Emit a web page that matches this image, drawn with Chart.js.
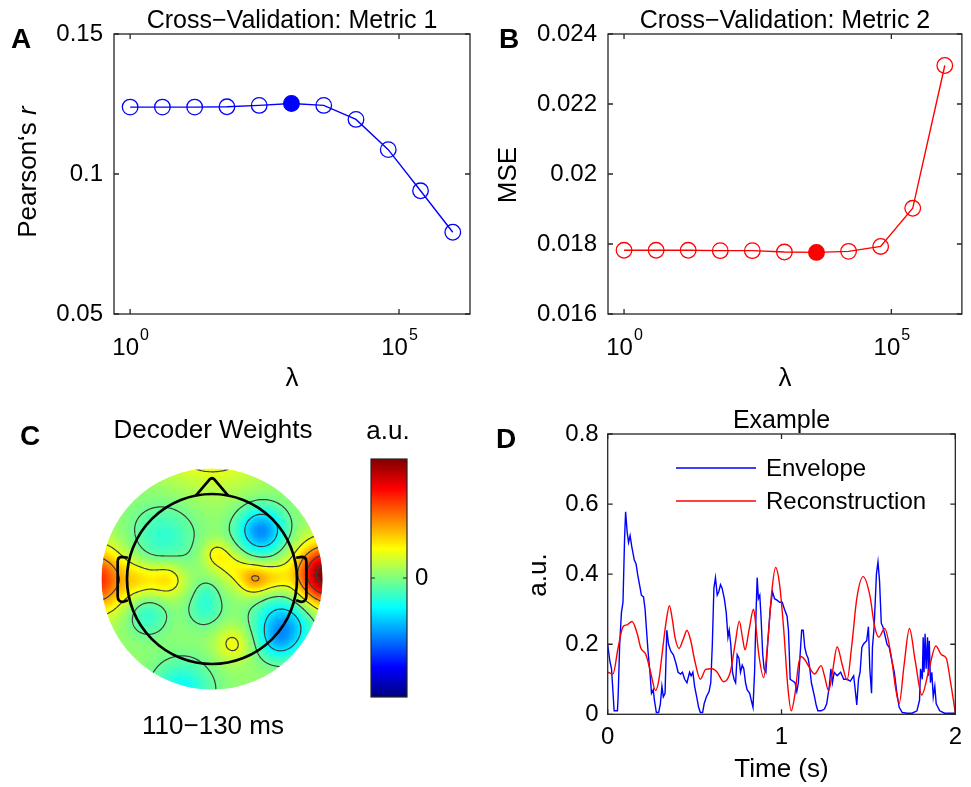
<!DOCTYPE html>
<html>
<head>
<title>Decoder cross-validation figure</title>
<script src="https://cdn.jsdelivr.net/npm/chart.js"></script>
<style>
body { margin: 0; background: #fff; width: 971px; height: 787px; position: relative; overflow: hidden; }
canvas { position: absolute; }
</style>
</head>
<body>
<canvas id="cA" width="485" height="400" style="left:0;top:0"></canvas>
<canvas id="cB" width="486" height="400" style="left:485px;top:0"></canvas>
<canvas id="cC" width="485" height="387" style="left:0;top:400px"></canvas>
<canvas id="cBar" width="130" height="300" style="left:330px;top:430px"></canvas>
<canvas id="cD" width="486" height="387" style="left:485px;top:400px"></canvas>
<script>
const FONT = '"Liberation Sans", Arial, Helvetica, sans-serif';

// A / B : cross-validation over lambda
const lambdas = [1, 3.981, 15.85, 63.10, 251.2, 1000, 3981, 15849, 63096, 251189, 1000000];
const lambdaTicks = [1, 100000];
const lambdaExp = ['0', '5'];
const pearsonR = [0.1239, 0.1239, 0.1239, 0.1240, 0.1245, 0.1252, 0.1245, 0.1195, 0.1087, 0.0940, 0.0792];
const mseVals = [0.01782, 0.01782, 0.01782, 0.01781, 0.01781, 0.01777, 0.01776, 0.01779, 0.01793, 0.01902, 0.02310];
const bestA = 5, bestB = 6;
const yTicksA = [0.05, 0.1, 0.15];
const yLabelsA = ['0.05', '0.1', '0.15'];
const yTicksB = [0.016, 0.018, 0.02, 0.022, 0.024];
const yLabelsB = ['0.016', '0.018', '0.02', '0.022', '0.024'];

// C : decoder weight topography (sources of the interpolated map, head units)
const topoBase = 0.52;
const blobX    = [0.58, 0.85, 0.78, -0.57, -0.76, -0.08, -0.06, -0.35, -0.53, -0.85, 0.50, 0.75, 0.25, 0.05, 0.25, -1.38, 1.35, 0.00];
const blobY    = [0.57, -0.53, -0.75, 0.50, -0.42, -0.35, -0.15, -1.30, 0.00, 0.00, 0.00, 0.02, 0.15, 0.30, -0.76, 0.00, 0.05, 1.90];
const blobAmp  = [-0.26, -0.23, -0.08, -0.10, -0.10, -0.09, -0.05, -0.14, 0.14, 0.10, 0.19, 0.10, 0.09, 0.10, 0.10, 0.33, 0.50, 0.22];
const blobSize = [0.20, 0.24, 0.15, 0.28, 0.17, 0.15, 0.10, 0.25, 0.15, 0.15, 0.13, 0.13, 0.14, 0.12, 0.15, 0.26, 0.25, 0.45];
const contourLevels = [0.24, 0.36, 0.48, 0.6, 0.72, 0.84, 0.96];

// D : example envelope vs reconstruction
const envT = [0, 0.013, 0.022, 0.032, 0.037, 0.056, 0.06, 0.069, 0.079, 0.088, 0.097, 0.103, 0.112, 0.12, 0.129, 0.138, 0.153, 0.163, 0.172, 0.183, 0.194, 0.206, 0.215, 0.222, 0.232, 0.243, 0.252, 0.262, 0.269, 0.28, 0.293, 0.303, 0.312, 0.32, 0.33, 0.34, 0.35, 0.363, 0.378, 0.393, 0.405, 0.419, 0.43, 0.443, 0.456, 0.471, 0.48, 0.49, 0.5, 0.512, 0.523, 0.533, 0.546, 0.555, 0.568, 0.583, 0.593, 0.602, 0.611, 0.62, 0.63, 0.639, 0.649, 0.658, 0.671, 0.682, 0.692, 0.699, 0.708, 0.718, 0.727, 0.736, 0.745, 0.755, 0.764, 0.774, 0.783, 0.793, 0.802, 0.817, 0.826, 0.836, 0.845, 0.854, 0.86, 0.867, 0.875, 0.882, 0.892, 0.9, 0.91, 0.92, 0.935, 0.948, 0.96, 0.976, 0.989, 1.004, 1.017, 1.032, 1.04, 1.05, 1.065, 1.078, 1.088, 1.097, 1.107, 1.116, 1.125, 1.134, 1.144, 1.153, 1.163, 1.172, 1.181, 1.19, 1.2, 1.209, 1.228, 1.247, 1.26, 1.275, 1.284, 1.293, 1.303, 1.32, 1.34, 1.358, 1.377, 1.396, 1.415, 1.424, 1.433, 1.443, 1.452, 1.462, 1.471, 1.49, 1.5, 1.508, 1.518, 1.523, 1.533, 1.546, 1.555, 1.564, 1.574, 1.583, 1.593, 1.607, 1.62, 1.636, 1.649, 1.664, 1.677, 1.695, 1.723, 1.751, 1.779, 1.794, 1.8, 1.81, 1.815, 1.82, 1.826, 1.832, 1.84, 1.845, 1.85, 1.857, 1.865, 1.873, 1.882, 1.89, 1.91, 1.938, 2.0];
const envV = [0.198, 0.15, 0.13, 0.05, 0.01, 0.01, 0.05, 0.2, 0.29, 0.32, 0.5, 0.578, 0.52, 0.49, 0.51, 0.48, 0.44, 0.43, 0.40, 0.37, 0.34, 0.335, 0.30, 0.25, 0.18, 0.12, 0.06, 0.07, 0.04, 0.005, 0.005, 0.03, 0.08, 0.05, 0.06, 0.24, 0.20, 0.18, 0.17, 0.145, 0.12, 0.115, 0.12, 0.10, 0.09, 0.12, 0.11, 0.12, 0.08, 0.05, 0.02, 0.005, 0.005, 0.03, 0.05, 0.065, 0.09, 0.2, 0.36, 0.39, 0.34, 0.35, 0.37, 0.36, 0.33, 0.29, 0.22, 0.24, 0.20, 0.12, 0.10, 0.09, 0.17, 0.16, 0.12, 0.14, 0.13, 0.09, 0.07, 0.06, 0.04, 0.02, 0.12, 0.30, 0.39, 0.33, 0.34, 0.28, 0.17, 0.13, 0.12, 0.2, 0.30, 0.35, 0.33, 0.325, 0.32, 0.32, 0.30, 0.28, 0.24, 0.10, 0.095, 0.09, 0.065, 0.09, 0.17, 0.24, 0.24, 0.19, 0.17, 0.16, 0.13, 0.09, 0.07, 0.05, 0.025, 0.01, 0.01, 0.015, 0.03, 0.08, 0.13, 0.09, 0.12, 0.11, 0.12, 0.10, 0.10, 0.095, 0.11, 0.07, 0.027, 0.10, 0.12, 0.19, 0.20, 0.21, 0.25, 0.13, 0.06, 0.19, 0.25, 0.40, 0.435, 0.38, 0.26, 0.25, 0.23, 0.20, 0.19, 0.15, 0.12, 0.06, 0.02, 0.005, 0.003, 0.003, 0.01, 0.04, 0.13, 0.10, 0.22, 0.12, 0.23, 0.13, 0.22, 0.11, 0.21, 0.09, 0.12, 0.05, 0.08, 0.03, 0.01, 0.003, 0.003];
const recT = [0, 0.03, 0.06, 0.088, 0.11, 0.14, 0.17, 0.19, 0.22, 0.247, 0.275, 0.295, 0.31, 0.335, 0.355, 0.372, 0.387, 0.41, 0.435, 0.456, 0.478, 0.5, 0.533, 0.564, 0.6, 0.63, 0.667, 0.705, 0.733, 0.757, 0.775, 0.79, 0.813, 0.839, 0.853, 0.867, 0.897, 0.92, 0.944, 0.966, 0.989, 1.013, 1.036, 1.056, 1.078, 1.097, 1.112, 1.135, 1.153, 1.19, 1.228, 1.247, 1.271, 1.293, 1.32, 1.35, 1.377, 1.405, 1.433, 1.47, 1.508, 1.536, 1.56, 1.593, 1.63, 1.658, 1.677, 1.705, 1.736, 1.77, 1.807, 1.845, 1.888, 1.92, 1.948, 1.97, 2.0];
const recV = [0.12, 0.115, 0.19, 0.25, 0.255, 0.265, 0.23, 0.19, 0.17, 0.12, 0.068, 0.10, 0.16, 0.26, 0.31, 0.27, 0.22, 0.188, 0.215, 0.239, 0.21, 0.155, 0.10, 0.128, 0.13, 0.12, 0.093, 0.12, 0.2, 0.266, 0.22, 0.184, 0.24, 0.30, 0.25, 0.18, 0.105, 0.2, 0.35, 0.419, 0.37, 0.24, 0.08, 0.01, 0.06, 0.14, 0.165, 0.155, 0.14, 0.115, 0.139, 0.11, 0.067, 0.12, 0.193, 0.14, 0.098, 0.2, 0.33, 0.393, 0.34, 0.25, 0.22, 0.245, 0.17, 0.07, 0.031, 0.14, 0.245, 0.15, 0.055, 0.12, 0.195, 0.17, 0.16, 0.10, 0.005];
const yTicksD = [0, 0.2, 0.4, 0.6, 0.8];
const yLabelsD = ['0', '0.2', '0.4', '0.6', '0.8'];
const xTicksD = [0, 1, 2];
const xLabelsD = ['0', '1', '2'];

function txt(ctx, s, x, y, size, opt = {}) {
  ctx.save();
  ctx.font = (opt.italic ? 'italic ' : '') + (opt.bold ? 'bold ' : '') + size + 'px ' + FONT;
  ctx.fillStyle = '#000';
  ctx.textAlign = opt.align || 'center';
  ctx.textBaseline = 'alphabetic';
  ctx.translate(x, y);
  if (opt.rot) ctx.rotate(-Math.PI / 2);
  ctx.fillText(s, 0, 0);
  ctx.restore();
}

function jet(v) {
  v = Math.max(0, Math.min(1, v));
  const c = k => Math.round(255 * Math.max(0, Math.min(1, 1.5 - Math.abs(4 * v - k))));
  return 'rgb(' + c(3) + ',' + c(2) + ',' + c(1) + ')';
}

// matlab style box with inward ticks on all sides, plus extra text
function axesBox(extra) {
  return {
    id: 'axesBox',
    afterDraw(chart) {
      const { ctx, chartArea: a } = chart;
      const sx = chart.scales.x, sy = chart.scales.y;
      ctx.save();
      ctx.strokeStyle = '#262626';
      ctx.lineWidth = 1.3;
      ctx.strokeRect(a.left, a.top, a.right - a.left, a.bottom - a.top);
      ctx.beginPath();
      sx.ticks.forEach(t => {
        const p = sx.getPixelForValue(t.value);
        ctx.moveTo(p, a.bottom); ctx.lineTo(p, a.bottom - 5);
        ctx.moveTo(p, a.top); ctx.lineTo(p, a.top + 5);
      });
      sy.ticks.forEach(t => {
        const p = sy.getPixelForValue(t.value);
        ctx.moveTo(a.left, p); ctx.lineTo(a.left + 5, p);
        ctx.moveTo(a.right, p); ctx.lineTo(a.right - 5, p);
      });
      ctx.stroke();
      ctx.restore();
      extra(chart);
    }
  };
}

// 10^k labels for the log axes
function powerLabels(chart) {
  const ctx = chart.ctx, sx = chart.scales.x;
  lambdaTicks.forEach((v, i) => {
    const p = sx.getPixelForValue(v);
    ctx.save();
    ctx.font = '24px ' + FONT;
    const w1 = ctx.measureText('10').width;
    ctx.font = '16px ' + FONT;
    const w2 = ctx.measureText(lambdaExp[i]).width;
    const x0 = p - (w1 + w2) / 2;
    ctx.restore();
    txt(ctx, '10', x0, 355, 24, { align: 'left' });
    txt(ctx, lambdaExp[i], x0 + w1 + 1, 340, 16, { align: 'left' });
  });
}

function cvChart(id, yVals, best, color, yTicks, yLabels, yMin, yMax, yWidth, padRight, extra) {
  return new Chart(document.getElementById(id), {
    type: 'line',
    data: {
      datasets: [{
        data: lambdas.map((x, i) => ({ x: x, y: yVals[i] })),
        borderColor: color,
        borderWidth: 1.4,
        pointRadius: 7.8,
        pointBorderWidth: 1.3,
        pointBorderColor: color,
        pointBackgroundColor: lambdas.map((x, i) => i === best ? color : 'rgba(0,0,0,0)'),
        tension: 0
      }]
    },
    options: {
      responsive: false,
      animation: false,
      events: [],
      layout: { padding: { left: 0, right: padRight, top: 34, bottom: 0 } },
      plugins: { legend: { display: false }, tooltip: { enabled: false } },
      scales: {
        x: {
          type: 'logarithmic', min: Math.pow(10, -0.3), max: Math.pow(10, 6.32),
          grid: { display: false, drawTicks: false }, border: { display: false },
          ticks: { display: false },
          afterBuildTicks: s => { s.ticks = lambdaTicks.map(v => ({ value: v })); },
          afterFit: s => { s.height = 86; }
        },
        y: {
          min: yMin, max: yMax,
          grid: { display: false, drawTicks: false }, border: { display: false },
          ticks: { color: '#000', font: { family: FONT, size: 24 }, padding: 11, autoSkip: false,
                   callback: (v, i) => yLabels[i] },
          afterBuildTicks: s => { s.ticks = yTicks.map(v => ({ value: v })); },
          afterFit: s => { s.width = yWidth; }
        }
      }
    },
    plugins: [axesBox(extra)]
  });
}

cvChart('cA', pearsonR, bestA, '#0000ff', yTicksA, yLabelsA, 0.05, 0.15, 114, 15, chart => {
  const ctx = chart.ctx, a = chart.chartArea;
  const cx = (a.left + a.right) / 2;
  txt(ctx, 'A', 21, 48, 28, { bold: true });
  txt(ctx, 'Cross\u2212Validation: Metric 1', cx, 28, 25);
  txt(ctx, '\u03bb', cx, 386, 26);
  powerLabels(chart);
  // Pearson's r, r in italics
  ctx.save();
  ctx.font = '26px ' + FONT;
  const w1 = ctx.measureText("Pearson\u2018s ").width;
  ctx.font = 'italic 26px ' + FONT;
  const w2 = ctx.measureText('r').width;
  ctx.restore();
  const y0 = 172 + (w1 + w2) / 2;
  txt(ctx, "Pearson\u2018s ", 36, y0, 26, { rot: true, align: 'left' });
  txt(ctx, 'r', 36, y0 - w1, 26, { rot: true, align: 'left', italic: true });
});

cvChart('cB', mseVals, bestB, '#ff0000', yTicksB, yLabelsB, 0.016, 0.024, 123, 7, chart => {
  const ctx = chart.ctx, a = chart.chartArea;
  const cx = (a.left + a.right) / 2;
  txt(ctx, 'B', 24, 48, 28, { bold: true });
  txt(ctx, 'Cross\u2212Validation: Metric 2', cx, 28, 25);
  txt(ctx, '\u03bb', cx, 386, 26);
  powerLabels(chart);
  txt(ctx, 'MSE', 31, 175, 26, { rot: true });
});

// C : topography
function field(x, y) {
  let v = topoBase;
  for (let i = 0; i < blobX.length; i++) {
    const dx = x - blobX[i], dy = y - blobY[i];
    v += blobAmp[i] * Math.exp(-(dx * dx + dy * dy) / (2 * blobSize[i] * blobSize[i]));
  }
  return v;
}

const R = 1.3;
const topoPlugin = {
  id: 'topo',
  beforeDatasetsDraw(chart) {
    const ctx = chart.ctx, sx = chart.scales.x, sy = chart.scales.y;
    const px = v => sx.getPixelForValue(v), py = v => sy.getPixelForValue(v);
    const cx = px(0), cy = py(0), rad = px(R) - cx, unit = px(1) - cx;
    ctx.save();
    ctx.beginPath();
    ctx.arc(cx, cy, rad, 0, 2 * Math.PI);
    ctx.clip();
    const h = 0.02;
    for (let gx = -R; gx < R; gx += h) {
      for (let gy = -R; gy < R; gy += h) {
        ctx.fillStyle = jet(field(gx + h / 2, gy + h / 2));
        const x0 = px(gx), y0 = py(gy + h);
        ctx.fillRect(x0, y0, px(gx + h) - x0 + 0.6, py(gy) - y0 + 0.6);
      }
    }
    // contour lines (marching squares)
    const s = 0.02, n = Math.round(2 * R / s) + 1, g = [];
    for (let i = 0; i < n; i++) {
      g.push([]);
      for (let j = 0; j < n; j++) g[i].push(field(-R + i * s, -R + j * s));
    }
    ctx.strokeStyle = '#3c3c3c';
    ctx.lineWidth = 1.2;
    ctx.beginPath();
    contourLevels.forEach(L => {
      for (let i = 0; i < n - 1; i++) {
        for (let j = 0; j < n - 1; j++) {
          const c = [[i, j], [i + 1, j], [i + 1, j + 1], [i, j + 1]];
          const pts = [];
          for (let k = 0; k < 4; k++) {
            const [ai, aj] = c[k], [bi, bj] = c[(k + 1) % 4];
            const va = g[ai][aj] - L, vb = g[bi][bj] - L;
            if ((va < 0) !== (vb < 0)) {
              const t = va / (va - vb);
              pts.push([px(-R + (ai + (bi - ai) * t) * s), py(-R + (aj + (bj - aj) * t) * s)]);
            }
          }
          for (let k = 0; k + 1 < pts.length; k += 2) {
            ctx.moveTo(pts[k][0], pts[k][1]);
            ctx.lineTo(pts[k + 1][0], pts[k + 1][1]);
          }
        }
      }
    });
    ctx.stroke();
    ctx.restore();

    // head, nose and ears
    ctx.save();
    ctx.strokeStyle = '#000';
    ctx.lineWidth = 2.7;
    ctx.lineJoin = 'round';
    ctx.beginPath();
    ctx.arc(cx, cy, unit, 0, 2 * Math.PI);
    ctx.stroke();
    ctx.beginPath();
    ctx.moveTo(px(-0.19), py(0.98));
    ctx.lineTo(px(-0.03), py(1.17));
    ctx.quadraticCurveTo(px(0), py(1.2), px(0.03), py(1.17));
    ctx.lineTo(px(0.19), py(0.98));
    ctx.stroke();
    [-1, 1].forEach(sd => {
      ctx.beginPath();
      ctx.moveTo(px(sd * 0.99), py(0.25));
      ctx.lineTo(px(sd * 1.06), py(0.26));
      ctx.quadraticCurveTo(px(sd * 1.11), py(0.26), px(sd * 1.11), py(0.2));
      ctx.lineTo(px(sd * 1.11), py(-0.2));
      ctx.quadraticCurveTo(px(sd * 1.11), py(-0.27), px(sd * 1.05), py(-0.27));
      ctx.lineTo(px(sd * 0.99), py(-0.25));
      ctx.stroke();
    });
    ctx.restore();
  },
  afterDraw(chart) {
    const ctx = chart.ctx;
    txt(ctx, 'C', 30, 45, 28, { bold: true });
    txt(ctx, 'Decoder Weights', 213, 38, 26);
    txt(ctx, 'a.u.', 388, 39, 26);
    txt(ctx, '110\u2212130 ms', 213, 334, 26);
  }
};

new Chart(document.getElementById('cC'), {
  type: 'scatter',
  data: { datasets: [] },
  options: {
    responsive: false, animation: false, events: [],
    layout: { padding: { left: 212 - 110.5, right: 485 - 212 - 110.5, top: 179 - 110.5, bottom: 387 - 179 - 110.5 } },
    plugins: { legend: { display: false }, tooltip: { enabled: false } },
    scales: {
      x: { display: false, min: -R, max: R },
      y: { display: false, min: -R, max: R }
    }
  },
  plugins: [topoPlugin]
});

// colour bar
new Chart(document.getElementById('cBar'), {
  type: 'scatter',
  data: { datasets: [] },
  options: {
    responsive: false, animation: false, events: [],
    layout: { padding: { left: 41, right: 0, top: 29, bottom: 33 } },
    plugins: { legend: { display: false }, tooltip: { enabled: false } },
    scales: {
      x: { display: false, min: 0, max: 1 },
      y: {
        position: 'right', min: -1, max: 1,
        grid: { display: false, drawTicks: false }, border: { display: false },
        ticks: { color: '#000', font: { family: FONT, size: 24 }, padding: 8, callback: () => '0' },
        afterBuildTicks: s => { s.ticks = [{ value: 0 }]; },
        afterFit: s => { s.width = 53; }
      }
    }
  },
  plugins: [{
    id: 'bar',
    beforeDatasetsDraw(chart) {
      const ctx = chart.ctx, a = chart.chartArea, sy = chart.scales.y;
      for (let p = Math.floor(a.top); p < a.bottom; p++) {
        ctx.fillStyle = jet((sy.getValueForPixel(p + 0.5) + 1) / 2);
        ctx.fillRect(a.left, p, a.right - a.left, 1);
      }
      ctx.save();
      ctx.strokeStyle = '#262626';
      ctx.lineWidth = 1.2;
      ctx.strokeRect(a.left, a.top, a.right - a.left, a.bottom - a.top);
      const z = sy.getPixelForValue(0);
      ctx.beginPath();
      ctx.moveTo(a.left, z); ctx.lineTo(a.left + 4, z);
      ctx.moveTo(a.right, z); ctx.lineTo(a.right - 4, z);
      ctx.stroke();
      ctx.restore();
    }
  }]
});

// D : example
new Chart(document.getElementById('cD'), {
  type: 'line',
  data: {
    datasets: [
      { label: 'Reconstruction', data: recT.map((t, i) => ({ x: t, y: recV[i] })), borderColor: '#ff0000',
        borderWidth: 1.4, pointRadius: 0, cubicInterpolationMode: 'monotone', order: 0 },
      { label: 'Envelope', data: envT.map((t, i) => ({ x: t, y: envV[i] })), borderColor: '#0000ff',
        borderWidth: 1.4, pointRadius: 0, tension: 0, order: 1 }
    ]
  },
  options: {
    responsive: false, animation: false, events: [],
    layout: { padding: { left: 0, right: 6.7, top: 34, bottom: 0 } },
    plugins: { legend: { display: false }, tooltip: { enabled: false } },
    scales: {
      x: {
        type: 'linear', min: 0, max: 2,
        grid: { display: false, drawTicks: false }, border: { display: false },
        ticks: { color: '#000', font: { family: FONT, size: 24 }, padding: 9, autoSkip: false,
                 callback: (v, i) => xLabelsD[i] },
        afterBuildTicks: s => { s.ticks = xTicksD.map(v => ({ value: v })); },
        afterFit: s => { s.height = 72.7; }
      },
      y: {
        min: 0, max: 0.8,
        grid: { display: false, drawTicks: false }, border: { display: false },
        ticks: { color: '#000', font: { family: FONT, size: 24 }, padding: 9, autoSkip: false,
                 callback: (v, i) => yLabelsD[i] },
        afterBuildTicks: s => { s.ticks = yTicksD.map(v => ({ value: v })); },
        afterFit: s => { s.width = 122.7; }
      }
    }
  },
  plugins: [axesBox(chart => {
    const ctx = chart.ctx, a = chart.chartArea;
    const cx = (a.left + a.right) / 2;
    txt(ctx, 'D', 21, 48, 28, { bold: true });
    txt(ctx, 'Example', cx, 28, 25);
    txt(ctx, 'Time (s)', cx, 377, 26);
    txt(ctx, 'a.u.', 61, 175, 26, { rot: true });
    // legend
    ctx.save();
    ctx.lineWidth = 1.4;
    ctx.strokeStyle = '#0000ff';
    ctx.beginPath(); ctx.moveTo(191, 68); ctx.lineTo(271, 68); ctx.stroke();
    ctx.strokeStyle = '#ff0000';
    ctx.beginPath(); ctx.moveTo(191, 101); ctx.lineTo(271, 101); ctx.stroke();
    ctx.restore();
    txt(ctx, 'Envelope', 281, 76, 24, { align: 'left' });
    txt(ctx, 'Reconstruction', 281, 109, 24, { align: 'left' });
  })]
});
</script>
</body>
</html>
